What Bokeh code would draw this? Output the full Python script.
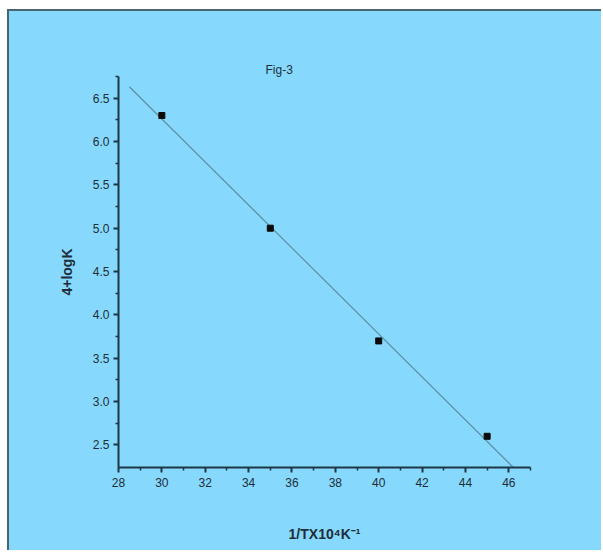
import numpy as np
from bokeh.plotting import figure
from bokeh.models import Range1d, FixedTicker, PrintfTickFormatter
from bokeh.embed import file_html
from bokeh.resources import INLINE

# Data
inv_T = [30, 35, 40, 45]          # 1/T x 10^4 K^-1
log_k = [6.3, 5.0, 3.7, 2.6]      # 4 + log K
x_ticks = [28, 30, 32, 34, 36, 38, 40, 42, 44, 46]
y_ticks = [2.5, 3.0, 3.5, 4.0, 4.5, 5.0, 5.5, 6.0, 6.5]
fit_x_start = 28.5

BG = "#86d9fc"
AX = "#1c3644"
TXT = "#1e2d38"
FONT = "Liberation Sans"

x_min, x_max = 28, 47
y_min, y_max = 2.24, 6.75

p = figure(width=594, height=541, output_backend="svg", toolbar_location=None,
           x_range=Range1d(x_min, x_max), y_range=Range1d(y_min, y_max),
           min_border_left=109, min_border_right=73, min_border_top=65,
           min_border_bottom=85)
p.margin = (9, 0, 0, 7)
p.styles = {"border-top": "2px solid #45666e", "border-left": "2px solid #45666e",
            "background-color": BG}
p.background_fill_color = None
p.border_fill_color = None
p.outline_line_color = None
p.grid.visible = False

# regression line
slope, intercept = np.polyfit(inv_T, log_k, 1)
x_end = (y_min - intercept) / slope
fx = [fit_x_start, x_end]
fy = [slope * v + intercept for v in fx]
p.line(fx, fy, line_color="#5c8ea6", line_width=1.2)
p.scatter(inv_T, log_k, marker="square", size=6, fill_color="#0a0a0a", line_color="#0a0a0a")

for ax in (p.xaxis[0], p.yaxis[0]):
    ax.axis_line_color = AX
    ax.axis_line_width = 2
    ax.major_tick_line_color = AX
    ax.major_tick_line_width = 2
    ax.minor_tick_line_color = AX
    ax.minor_tick_line_width = 1.5
    ax.major_tick_out = 5
    ax.major_tick_in = 0
    ax.minor_tick_out = 3
    ax.minor_tick_in = 0
    ax.major_label_text_font = FONT
    ax.major_label_text_font_size = "12px"
    ax.major_label_text_color = TXT
    ax.axis_label_text_font = FONT
    ax.axis_label_text_font_style = "bold"
    ax.axis_label_text_font_size = "14px"
    ax.axis_label_text_color = TXT

p.xaxis.ticker = FixedTicker(ticks=x_ticks, minor_ticks=[v + 1 for v in x_ticks])
p.yaxis.ticker = FixedTicker(ticks=y_ticks, minor_ticks=[v + 0.25 for v in y_ticks])
p.yaxis.formatter = PrintfTickFormatter(format="%.1f")
p.xaxis.axis_label = "1/TX10\u2074K\u207b\u00b9"
p.yaxis.axis_label = "4+logK"
p.xaxis.axis_label_standoff = 36
p.yaxis.axis_label_standoff = 15
p.xaxis.major_label_standoff = 5
p.yaxis.major_label_standoff = 4

p.title.text = "Fig-3"
p.title.align = "left"
p.title.offset = 147
p.title.standoff = 0
p.title.text_font = FONT
p.title.text_font_size = "12px"
p.title.text_font_style = "normal"
p.title.text_color = TXT

open("out.html", "w").write(file_html(p, INLINE))
